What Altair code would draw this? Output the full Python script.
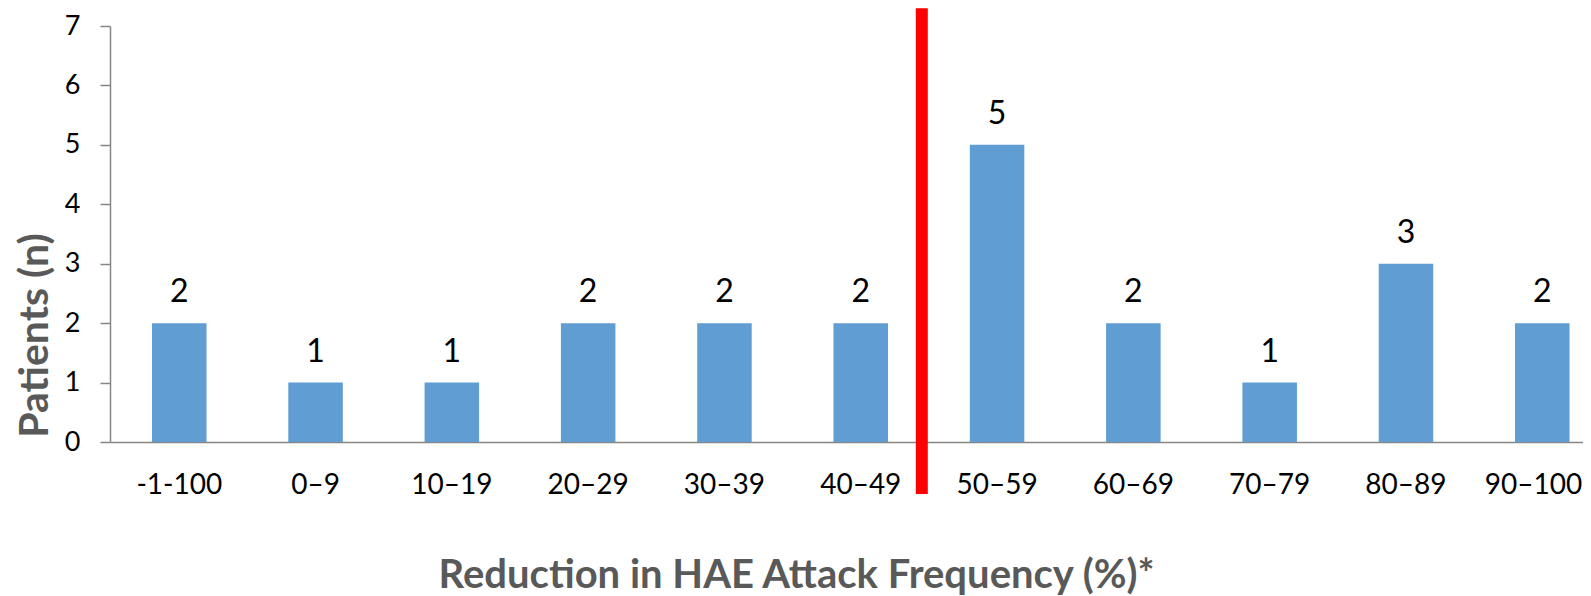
import altair as alt
import pandas as pd

categories = ["-1-100", "0–9", "10–19", "20–29", "30–39", "40–49",
              "50–59", "60–69", "70–79", "80–89", "90–100"]
patients = [2, 1, 1, 2, 2, 2, 5, 2, 1, 3, 2]
y_ticks = [0, 1, 2, 3, 4, 5, 6, 7]

threshold_category = ["50–59"]
marker_top = [7.3]
marker_bottom = [-0.875]

bars_df = pd.DataFrame({"range": categories, "patients": patients})
marker_df = pd.DataFrame({"range": threshold_category, "top": marker_top, "bottom": marker_bottom})

W, H = 1473, 416
FONT = "Lato"
BAR = "#5f9dd2"
AXIS = "#868686"
TITLE = "#595959"

x_scale = alt.Scale(domain=categories, paddingInner=0.6, paddingOuter=0.2035,
                    align=0.757, round=False)
y_scale = alt.Scale(domain=[0, 7], nice=False, zero=True)

last = categories[-1]
x_axis = alt.Axis(
    title="Reduction in HAE Attack Frequency (%)*",
    labelAngle=0, ticks=False, tickSize=0, labelPadding=51,
    labelBaseline="alphabetic", labelFontSize=28, labelColor="black",
    labelAlign=alt.ExprRef(expr=f"datum.label == '{last}' ? 'right' : 'center'"),
    labelOffset=alt.ExprRef(expr=f"datum.label == '{last}' ? 40 : 0"),
    labelFont=FONT, domainColor=AXIS, domainWidth=1.5,
    titleFont=FONT, titleFontSize=40, titleFontWeight="bold", titleColor=TITLE,
    titleX=686, titleY=145, titleAlign="center", titleBaseline="alphabetic",
)
y_axis = alt.Axis(
    title="Patients (n)", values=y_ticks, format="d", grid=False,
    tickSize=10, tickColor=AXIS, tickWidth=1.5, domainColor=AXIS, domainWidth=1.5,
    labelPadding=20, labelFontSize=27, labelColor="black", labelFont=FONT,
    titleFont=FONT, titleFontSize=41, titleFontWeight="bold", titleColor=TITLE,
    titleX=-63, titleY=309, titleAngle=270, titleAlign="center", titleBaseline="alphabetic",
)

bars = alt.Chart(bars_df).mark_bar(color=BAR).encode(
    x=alt.X("range:N", scale=x_scale, axis=x_axis),
    y=alt.Y("patients:Q", scale=y_scale, axis=y_axis),
)

labels = alt.Chart(bars_df).mark_text(
    dy=-21, baseline="alphabetic", fontSize=32, font=FONT, color="black"
).encode(
    x=alt.X("range:N", scale=x_scale),
    y=alt.Y("patients:Q", scale=y_scale),
    text=alt.Text("patients:Q"),
)

marker = alt.Chart(marker_df).mark_rule(color="#ff0000", strokeWidth=12, xOffset=-48).encode(
    x=alt.X("range:N", scale=x_scale, bandPosition=0),
    y=alt.Y("top:Q", scale=y_scale),
    y2="bottom:Q",
)

chart = alt.layer(bars, labels, marker).properties(
    width=W, height=H,
    padding={"left": 102, "top": 18, "right": 0, "bottom": 160},
    autosize=alt.AutoSizeParams(type="none"),
).configure_view(stroke=None)

chart.save("out.html", embed_options={"renderer": "svg", "actions": False})
